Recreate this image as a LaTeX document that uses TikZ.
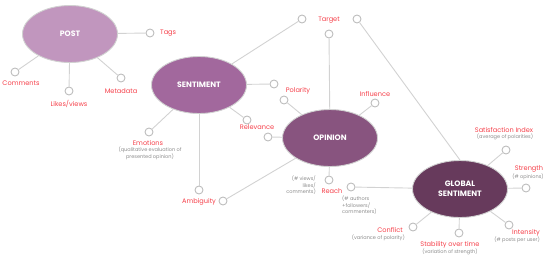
\documentclass[tikz,border=0pt]{standalone}
\usepackage{fontspec}
\setmainfont{Poppins}
\usetikzlibrary{shapes.geometric, positioning}
\definecolor{c1}{HTML}{C196BE}
\definecolor{c2}{HTML}{A2689D}
\definecolor{c3}{HTML}{88547F}
\definecolor{c4}{HTML}{673A5C}
\definecolor{linkcolor}{HTML}{D2D2D2}
\definecolor{dotcolor}{HTML}{BDBDBD}
\definecolor{labelcolor}{HTML}{F5404A}
\definecolor{notecolor}{HTML}{8C8C8C}

\begin{document}
\begin{tikzpicture}[
    x=1pt, y=-1pt,
    hub/.style={
        ellipse, minimum width=95pt, minimum height=57pt, inner sep=0pt,
        draw=black!18, line width=0.9pt, text=white,
        font=\fontsize{7.8}{10}\selectfont\bfseries, align=center,
    },
    dot/.style={
        circle, minimum size=8pt, inner sep=0pt,
        draw=dotcolor, line width=0.9pt, fill=white,
    },
    lnk/.style={draw=linkcolor, line width=0.9pt},
    lab/.style={font=\fontsize{6.6}{7}\selectfont, text=labelcolor, inner sep=0pt},
    note/.style={font=\fontsize{5}{6.4}\selectfont, text=notecolor, inner sep=0pt},
]
\useasboundingbox (0,0) rectangle (550,258);

% ================================================ the four hubs
\node[hub, fill=c1] (post) at (70,34) {POST};
\node[hub, fill=c2] (sent) at (199,85) {SENTIMENT};
\node[hub, fill=c3] (opin) at (330,138) {OPINION};
\node[hub, fill=c4] (glob) at (460,189) {GLOBAL\\SENTIMENT};

% ================================================ end points
\node[dot] (tagsd) at (150,33) {};
\node[dot] (commd) at (15,72) {};
\node[dot] (liked) at (69,91) {};
\node[dot] (metad) at (121,78) {};
\node[dot] (targa) at (302,19) {};
\node[dot] (targb) at (329,34) {};
\node[dot] (targc) at (357,19) {};
\node[dot] (pola) at (274,84) {};
\node[dot] (polb) at (284,100) {};
\node[dot] (rela) at (247,120) {};
\node[dot] (relb) at (268,137) {};
\node[dot] (emod) at (149,132) {};
\node[dot] (amba) at (199,190) {};
\node[dot] (ambb) at (223,201) {};
\node[dot] (infl) at (375,103) {};
\node[dot] (reaa) at (329,180) {};
\node[dot] (reab) at (351,187) {};
\node[dot] (satd) at (506,150) {};
\node[dot] (strd) at (526,188) {};
\node[dot] (intd) at (509,225) {};
\node[dot] (stad) at (459,233) {};
\node[dot] (cond) at (413,227) {};

% ================================================ links
\draw[lnk] (post) -- (tagsd);
\draw[lnk] (post) -- (commd);
\draw[lnk] (post) -- (liked);
\draw[lnk] (post) -- (metad);

\draw[lnk] (sent) -- (targa);
\draw[lnk] (sent) -- (pola);
\draw[lnk] (sent) -- (rela);
\draw[lnk] (sent) -- (emod);
\draw[lnk] (sent) -- (amba);

\draw[lnk] (opin) -- (targb);
\draw[lnk] (opin) -- (polb);
\draw[lnk] (opin) -- (relb);
\draw[lnk] (opin) -- (infl);
\draw[lnk] (opin) -- (ambb);
\draw[lnk] (opin) -- (reaa);

\draw[lnk] (targc) -- (glob.north);
\draw[lnk] (glob) -- (reab);
\draw[lnk] (glob) -- (satd);
\draw[lnk] (glob) -- (strd);
\draw[lnk] (glob) -- (intd);
\draw[lnk] (glob) -- (stad);
\draw[lnk] (glob) -- (cond);

% ================================================ labels
\node[lab, anchor=west] (tagsl) at (160,33) {Tags};
\node[lab] (comml) at (21,83) {Comments};
\node[lab] (likel) at (69,104) {Likes/views};
\node[lab] (metal) at (121,91) {Metadata};

\node[lab] (targl) at (329,20) {Target};
\node[lab] (poll) at (298,91) {Polarity};
\node[lab] (rell) at (257,127) {Relevance};
\node[lab] (emol) at (148,143) {Emotions};
\node[note, align=center] (emon) at (150,153.5)
    {(qualitative evaluation of\\presented opinion)};
\node[lab] (ambl) at (199,202) {Ambiguity};
\node[lab] (infll) at (375,94) {Influence};

\node[lab] (real) at (332,191) {Reach};
\node[note, anchor=east, align=right] (reana) at (316,185.5)
    {(\# views/\\likes/\\comments)};
\node[note, anchor=west, align=left] (reanb) at (342,205.5)
    {(\# authors\\+followers/\\commenters)};

% ================================================ global measures
\node[lab] (satl) at (504,130) {Satisfaction Index};
\node[note] (satn) at (505,137) {(average of polarities)};
\node[lab] (strl) at (529,169) {Strength};
\node[note] (strn) at (528,177) {(\# opinions)};
\node[lab] (intl) at (526,233) {Intensity};
\node[note, anchor=east] (intn) at (540,239.5) {(\# posts per user)};
\node[lab] (stal) at (450,245) {Stability over time};
\node[note] (stan) at (450,252) {(variation of strength)};
\node[lab] (conl) at (390,230) {Conflict};
\node[note, anchor=east] (conn) at (405,238) {(variance of polarity)};

\end{tikzpicture}
\end{document}
